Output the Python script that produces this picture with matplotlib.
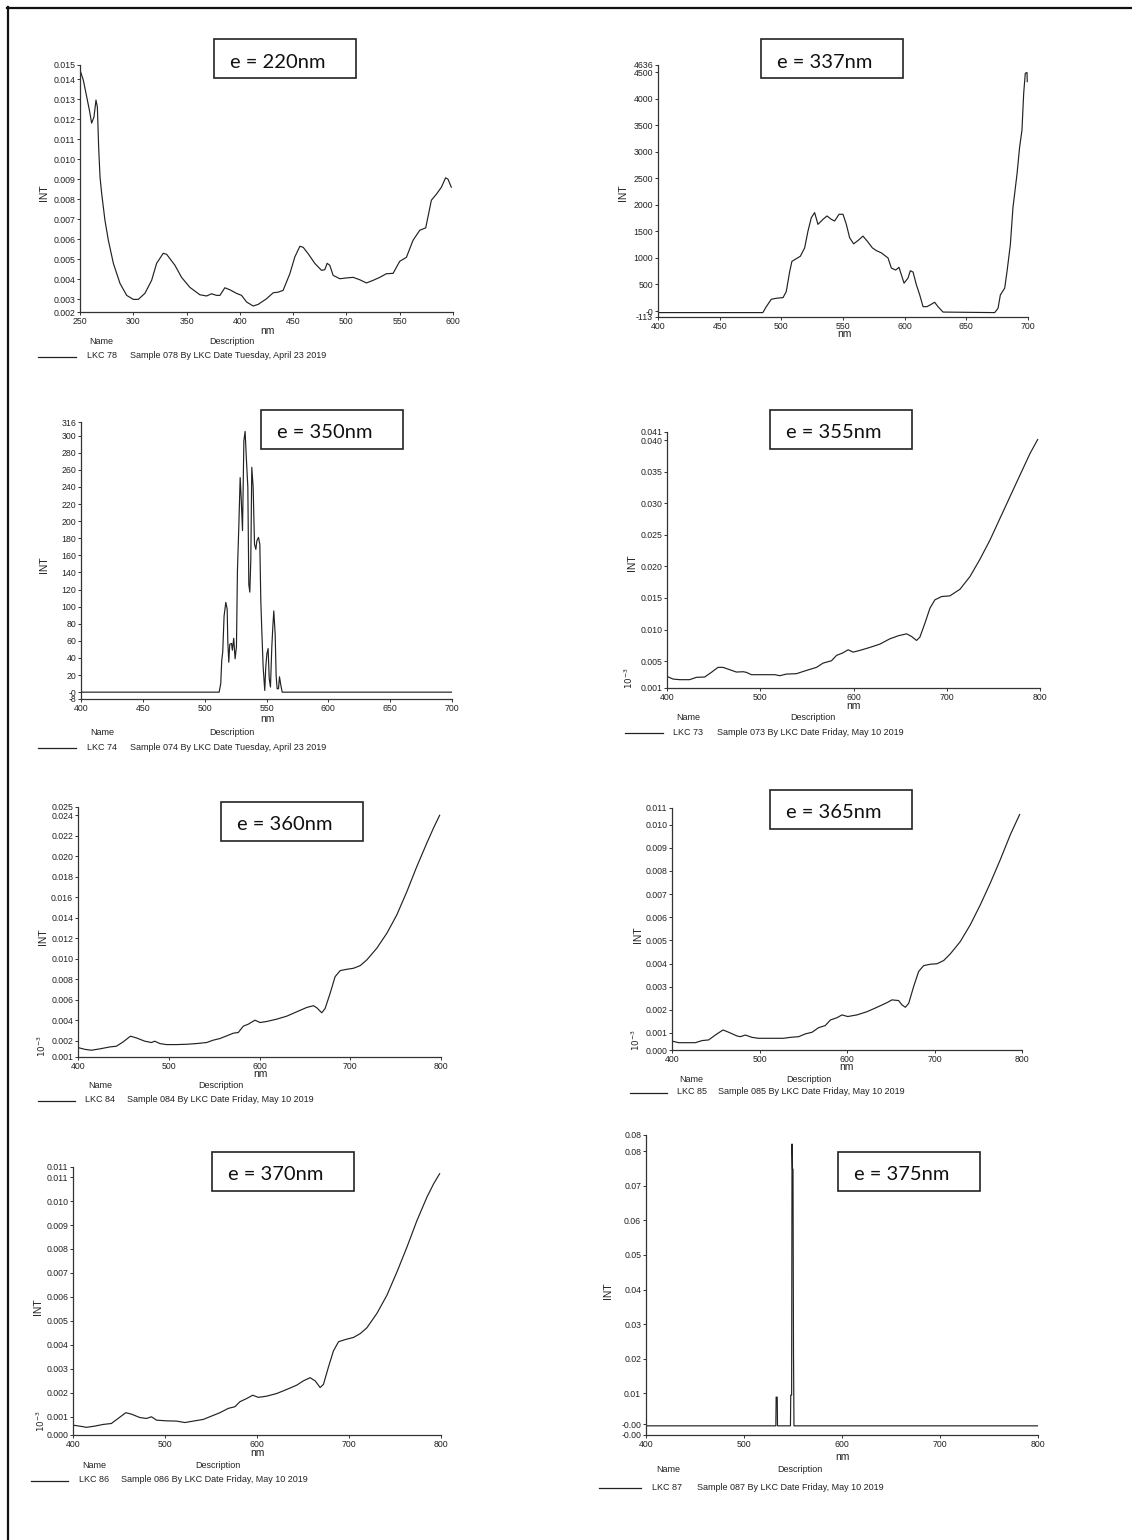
import matplotlib
matplotlib.use("Agg")
import matplotlib.pyplot as plt
from matplotlib.lines import Line2D
from matplotlib.patches import Rectangle

# ---- data (nm, INT) ----
nm_220 = [250, 253.1, 256.9, 258.8, 260.9, 263.1, 265, 266.3, 267.5, 268.8, 270.3, 273.4,
          276.6, 281.3, 287.5, 293.8, 300, 304.7, 310.9, 317.2, 321.9, 328.1, 331.3, 339.1,
          345.3, 353.1, 362.5, 368.8, 373.4, 378.1, 381.3, 385.9, 390.6, 396.9, 401.6, 406.3,
          412.5, 417.2, 425, 431.3, 435.9, 440.6, 446.9, 451.6, 456.3, 459.4, 464.1, 470.3,
          476.6, 479.7, 481.9, 484.4, 487.5, 493.8, 500, 506.3, 512.5, 518.8, 525, 531.3,
          537.5, 543.8, 550, 556.3, 562.5, 568.8, 574.4, 579.7, 584.4, 589.1, 593.1, 595.3, 598.4]
int_220 = [0.01445, 0.01395, 0.01295, 0.01245, 0.0118, 0.0121, 0.01295, 0.0126, 0.0106, 0.0091,
           0.0083, 0.00695, 0.00595, 0.0048, 0.0038, 0.0032, 0.0030, 0.0030, 0.0033, 0.00395,
           0.0048, 0.0053, 0.00525, 0.0047, 0.0041, 0.0036, 0.00323, 0.00317, 0.00328, 0.0032,
           0.0032, 0.00358, 0.00348, 0.0033, 0.0032, 0.00287, 0.00267, 0.00275, 0.00303, 0.00333,
           0.00336, 0.00345, 0.00428, 0.00512, 0.00565, 0.0056, 0.00528, 0.0048, 0.00445, 0.00448,
           0.0048, 0.0047, 0.0042, 0.00403, 0.00407, 0.0041, 0.00398, 0.00382, 0.00395, 0.0041,
           0.00428, 0.0043, 0.0049, 0.0051, 0.00595, 0.00645, 0.00657, 0.00795, 0.00825, 0.0086,
           0.00907, 0.0090, 0.0086]

nm_337 = [400, 485, 487.8, 491.9, 496, 501.4, 504, 506.8, 508.6, 512.2, 515.4, 518.9, 521.6,
          524.3, 527, 529.7, 533.8, 537, 540.5, 543.2, 546.8, 550, 552.7, 555.4, 558.6, 562.2,
          566.2, 569.7, 573.8, 577, 581.1, 586.5, 589.2, 592.7, 595.4, 599.5, 602.7, 604.6,
          606.8, 609.5, 612.2, 614.9, 618.1, 621.6, 624.3, 627, 631.1, 673, 675.7, 677.6, 681.1,
          683, 685.7, 687.8, 691.1, 693.2, 695.1, 696.5, 697.8, 699.2, 699.4]
int_337 = [-30, -30, 82, 222, 240, 253, 367, 747, 937, 987, 1032, 1190, 1506, 1759, 1854, 1633,
           1728, 1791, 1728, 1696, 1823, 1823, 1633, 1380, 1266, 1329, 1411, 1316, 1190, 1139,
           1095, 1000, 810, 772, 823, 525, 620, 759, 734, 494, 304, 82, 82, 127, 165, 82, -20,
           -30, 51, 304, 430, 747, 1253, 1949, 2582, 3089, 3405, 4101, 4481, 4494, 4323]

nm_350 = [400, 511.7, 513, 513.8, 514.6, 515.7, 517.1, 518.2, 518.7, 519.5, 520.3, 521.7, 522.4,
          523.5, 524.6, 525.7, 526.5, 527.6, 528.7, 529.5, 530.6, 531.7, 532.7, 533.8, 534.9,
          535.7, 536.5, 537.3, 538.1, 539.2, 540.3, 541.4, 542.2, 543.5, 544.6, 545.4, 546.2,
          547.3, 548.6, 549.4, 550.3, 551.3, 552.2, 553.2, 554.3, 555.1, 555.9, 557, 557.8,
          558.6, 559.7, 560.5, 561.6, 562.7, 700]
int_350 = [0, 0, 10, 37, 47, 89, 105, 97, 60, 35, 56, 57, 49, 63, 39, 53, 142, 193, 251, 228,
           189, 294, 305, 271, 240, 126, 117, 154, 263, 240, 173, 167, 177, 181, 173, 107, 72,
           29, 2, 29, 45, 51, 16, 6, 53, 76, 95, 68, 19, 4, 4, 18, 8, 0, 0]

nm_355 = [400, 406.4, 413.6, 424.3, 431.5, 440.4, 447.6, 454.7, 460.1, 467.3, 474.4, 481.6,
          485.2, 490.5, 503, 515.6, 520.9, 528.1, 538.8, 549.6, 560.3, 567.4, 576.4, 581.8,
          588.2, 594.3, 599.6, 606.8, 617.5, 628.3, 639, 648, 656.9, 662.3, 667.6, 671.2, 676.6,
          682, 687.3, 694.5, 703.4, 714.2, 724.9, 735.6, 746.4, 757.1, 767.8, 778.5, 789.3, 797.5]
int_355 = [0.00257, 0.00215, 0.00205, 0.00205, 0.00242, 0.00247, 0.00321, 0.0040, 0.0040,
           0.00363, 0.00326, 0.00331, 0.00321, 0.00284, 0.00284, 0.00284, 0.00268, 0.00294,
           0.0030, 0.00352, 0.0040, 0.00468, 0.00505, 0.0059, 0.00627, 0.00679, 0.00642, 0.00669,
           0.00716, 0.00769, 0.00853, 0.00901, 0.00932, 0.0089, 0.00827, 0.0088, 0.01101,
           0.01339, 0.01471, 0.01523, 0.01534, 0.01639, 0.0184, 0.02114, 0.0242, 0.02763,
           0.03106, 0.03448, 0.03791, 0.04013]

nm_360 = [400, 407.4, 414.7, 423.9, 435, 442.3, 449.7, 457.8, 464.4, 473.6, 481, 484.6, 490.2,
          497.5, 508.6, 519.6, 530.6, 541.7, 549, 556.4, 563.8, 571.1, 576.6, 582.2, 587.7, 595,
          600.6, 607.9, 619, 630, 641.1, 652.1, 659.4, 663.1, 668.6, 672.3, 677.8, 683.3, 688.9,
          696.2, 703.6, 711, 718.3, 729.3, 740.4, 751.4, 762.5, 773.5, 784.5, 791.9, 798.5]
int_360 = [0.00135, 0.00118, 0.00109, 0.00122, 0.00141, 0.00148, 0.0019, 0.00246, 0.00229,
           0.00197, 0.00184, 0.00197, 0.00174, 0.00164, 0.00164, 0.00167, 0.00174, 0.00184,
           0.00207, 0.00223, 0.00249, 0.00275, 0.00282, 0.00344, 0.00363, 0.00402, 0.00379,
           0.00389, 0.00412, 0.00441, 0.00484, 0.00526, 0.00543, 0.00523, 0.00474, 0.00516,
           0.00663, 0.00826, 0.00885, 0.00898, 0.00908, 0.00934, 0.0099, 0.01104, 0.0125,
           0.0143, 0.01658, 0.01903, 0.02131, 0.02278, 0.02399]

nm_365 = [400, 407.6, 417.1, 426.7, 434.3, 441.9, 449.5, 458.3, 464.8, 474.3, 478.1, 483.8,
          491.4, 499, 512.4, 527.6, 535.2, 544.8, 552.4, 560, 567.6, 575.2, 581, 588.6, 594.3,
          600.8, 611.4, 622.9, 634.3, 645.7, 651.4, 659, 662.9, 666.7, 670.5, 676.2, 681.9,
          687.6, 695.2, 702.9, 710.5, 718.1, 729.5, 741, 752.4, 763.8, 775.2, 786.7, 797.3]
int_365 = [0.00065, 0.00058, 0.00058, 0.00058, 0.00067, 0.0007, 0.00091, 0.00113, 0.00103,
           0.00087, 0.00084, 0.00091, 0.00081, 0.00077, 0.00077, 0.00077, 0.00081, 0.00084,
           0.00096, 0.00103, 0.00123, 0.00132, 0.00156, 0.00166, 0.00178, 0.00171, 0.00178,
           0.00192, 0.00211, 0.00231, 0.00243, 0.0024, 0.00221, 0.00211, 0.00228, 0.00301,
           0.00366, 0.00391, 0.00397, 0.00399, 0.00413, 0.00442, 0.00495, 0.00568, 0.00654,
           0.00748, 0.00849, 0.00957, 0.01044]

nm_370 = [400, 407.3, 414.5, 423.6, 432.7, 441.7, 449, 457.4, 463.5, 472.6, 479.9, 485.3, 490.7,
          501.6, 512.5, 521.6, 530.7, 541.6, 550.6, 559.7, 568.8, 576, 581.5, 588.7, 595.3,
          601.5, 610.5, 621.4, 632.3, 643.2, 650.5, 657.7, 663.2, 668.6, 672.2, 677.7, 683.1,
          688.6, 695.8, 704.9, 712.2, 719.4, 730.3, 741.2, 752.1, 763, 773.9, 784.8, 792, 798.5]
int_370 = [0.00065, 0.00061, 0.00056, 0.00061, 0.00068, 0.00072, 0.00093, 0.00117, 0.00111,
           0.00097, 0.00093, 0.0010, 0.00086, 0.00083, 0.00082, 0.00076, 0.00082, 0.00089,
           0.00103, 0.00117, 0.00135, 0.00142, 0.00163, 0.00176, 0.0019, 0.00181, 0.00186,
           0.00197, 0.00214, 0.00232, 0.0025, 0.00263, 0.0025, 0.00222, 0.00235, 0.00308,
           0.00375, 0.00413, 0.00422, 0.00431, 0.00447, 0.00471, 0.00531, 0.00607, 0.00704,
           0.00808, 0.00919, 0.01017, 0.01072, 0.01114]

nm_375 = [400, 532.5, 532.8, 533.9, 534.2, 547.4, 547.7, 548.6, 549.0, 549.5, 550.0, 550.5,
          551.0, 800]
int_375 = [0.0006, 0.0006, 0.0089, 0.0089, 0.0006, 0.0006, 0.0095, 0.0095, 0.0821, 0.0748,
           0.0748, 0.022, 0.0006, 0.0006]

titles = ["e = 220nm", "e = 337nm", "e = 350nm", "e = 355nm",
          "e = 360nm", "e = 365nm", "e = 370nm", "e = 375nm"]
sample_names = ["LKC 78", None, "LKC 74", "LKC 73", "LKC 84", "LKC 85", "LKC 86", "LKC 87"]
sample_desc = ["Sample 078 By LKC Date Tuesday, April 23 2019", None,
               "Sample 074 By LKC Date Tuesday, April 23 2019",
               "Sample 073 By LKC Date Friday, May 10 2019",
               "Sample 084 By LKC Date Friday, May 10 2019",
               "Sample 085 By LKC Date Friday, May 10 2019",
               "Sample 086 By LKC Date Friday, May 10 2019",
               "Sample 087 By LKC Date Friday, May 10 2019"]

xticks_220 = [250, 300, 350, 400, 450, 500, 550, 600]
xticks_400_700 = [400, 450, 500, 550, 600, 650, 700]
xticks_400_800 = [400, 500, 600, 700, 800]

# y ticks (value, label) - end ticks sit on the axis limits
yt_220 = [0.00237, 0.003, 0.004, 0.005, 0.006, 0.007, 0.008, 0.009, 0.010, 0.011, 0.012,
          0.013, 0.014, 0.0147]
yl_220 = ["0.002", "0.003", "0.004", "0.005", "0.006", "0.007", "0.008", "0.009", "0.010",
          "0.011", "0.012", "0.013", "0.014", "0.015"]
yt_337 = [-113, 0, 500, 1000, 1500, 2000, 2500, 3000, 3500, 4000, 4500, 4636]
yl_337 = ["-113", "-0", "500", "1000", "1500", "2000", "2500", "3000", "3500", "4000",
          "4500", "4636"]
yt_350 = [-8, 0, 20, 40, 60, 80, 100, 120, 140, 160, 180, 200, 220, 240, 260, 280, 300, 316]
yl_350 = ["-8", "-0", "20", "40", "60", "80", "100", "120", "140", "160", "180", "200",
          "220", "240", "260", "280", "300", "316"]
yt_355 = [0.00073, 0.005, 0.010, 0.015, 0.020, 0.025, 0.030, 0.035, 0.040, 0.04132]
yl_355 = ["0.001", "0.005", "0.010", "0.015", "0.020", "0.025", "0.030", "0.035", "0.040",
          "0.041"]
yt_360 = [0.00043, 0.002, 0.004, 0.006, 0.008, 0.010, 0.012, 0.014, 0.016, 0.018, 0.020,
          0.022, 0.024, 0.0248]
yl_360 = ["0.001", "0.002", "0.004", "0.006", "0.008", "0.010", "0.012", "0.014", "0.016",
          "0.018", "0.020", "0.022", "0.024", "0.025"]
yt_365 = [0.000264, 0.001, 0.002, 0.003, 0.004, 0.005, 0.006, 0.007, 0.008, 0.009, 0.010,
          0.01072]
yl_365 = ["0.000", "0.001", "0.002", "0.003", "0.004", "0.005", "0.006", "0.007", "0.008",
          "0.009", "0.010", "0.011"]
yt_370 = [0.00024, 0.001, 0.002, 0.003, 0.004, 0.005, 0.006, 0.007, 0.008, 0.009, 0.010,
          0.011, 0.01142]
yl_370 = ["0.000", "0.001", "0.002", "0.003", "0.004", "0.005", "0.006", "0.007", "0.008",
          "0.009", "0.010", "0.011", "0.011"]
yt_375 = [-0.00205, 0.0011, 0.01, 0.02, 0.03, 0.04, 0.05, 0.06, 0.07, 0.08, 0.0847]
yl_375 = ["-0.00", "-0.00", "0.01", "0.02", "0.03", "0.04", "0.05", "0.06", "0.07", "0.08",
          "0.08"]

# ---- layout (pixels in a 1132x1540 page) ----
W, H = 1132, 1540

def fx(x):
    return x / W

def fy(y):
    return 1 - y / H

# axes box: left, right, top, bottom
axes_px = [(80, 453, 65, 312), (658, 1028, 65, 317), (81, 452, 422, 699),
           (667, 1040, 432, 688), (78, 441, 807, 1057), (672, 1022, 808, 1050),
           (73, 441, 1167, 1435), (646, 1038, 1135, 1435)]
# title box: left, top
title_px = [(214, 39), (761, 39), (261, 410), (770, 410), (221, 802), (770, 790),
            (212, 1152), (838, 1152)]
int_px = [(44, 193), (623, 193), (44, 565), (632, 563), (43, 937), (638, 935), (38, 1307),
          (608, 1291)]
nm_px = [(267, 331), (844, 334), (267, 719), (853, 706), (260, 1074), (846, 1067),
         (257, 1453), (842, 1457)]
# legend: name centre, desc centre, header y, line x0, x1, row y, id left, sample left
legend_px = [(101, 232, 342, 38, 76, 357, 87, 130), None,
             (102, 232, 732, 38, 76, 748, 87, 130),
             (688, 813, 718, 625, 663, 733, 673, 717),
             (100, 221, 1085, 38, 75, 1101, 85, 127),
             (691, 809, 1079, 630, 667, 1093, 677, 718),
             (94, 218, 1466, 31, 68, 1481, 79, 121),
             (668, 800, 1470, 599, 641, 1488, 652, 697)]
exp_px = [None, None, None, (629, 678), (42, 1046), (636, 1040), (41, 1421), None]

series = [(nm_220, int_220), (nm_337, int_337), (nm_350, int_350), (nm_355, int_355),
          (nm_360, int_360), (nm_365, int_365), (nm_370, int_370), (nm_375, int_375)]
xticks = [xticks_220, xticks_400_700, xticks_400_700, xticks_400_800, xticks_400_800,
          xticks_400_800, xticks_400_800, xticks_400_800]
yticks = [(yt_220, yl_220), (yt_337, yl_337), (yt_350, yl_350), (yt_355, yl_355),
          (yt_360, yl_360), (yt_365, yl_365), (yt_370, yl_370), (yt_375, yl_375)]

SMALL = "Liberation Sans"
ink = "#222222"

fig = plt.figure(figsize=(W / 100, H / 100), dpi=100)
fig.patch.set_facecolor("white")

# page frame (left and top edges only)
fig.add_artist(Line2D([fx(7.5), fx(7.5)], [fy(7), 0], color="#111", lw=1.6))
fig.add_artist(Line2D([fx(7), 1], [fy(7.5), fy(7.5)], color="#111", lw=1.6))

for i in range(8):
    L, R, T, B = axes_px[i]
    ax = fig.add_axes([fx(L), fy(B), (R - L) / W, (B - T) / H])
    x, y = series[i]
    ax.plot(x, y, color=ink, lw=0.85)
    xt = xticks[i]
    ax.set_xlim(xt[0], xt[-1])
    yt, yl = yticks[i]
    ax.set_ylim(yt[0], yt[-1])
    ax.set_xticks(xt)
    ax.set_xticklabels([str(v) for v in xt])
    ax.set_yticks(yt)
    ax.set_yticklabels(yl)
    for s in ["top", "right"]:
        ax.spines[s].set_visible(False)
    for s in ["left", "bottom"]:
        ax.spines[s].set_linewidth(0.9)
        ax.spines[s].set_color("#333")
    ax.tick_params(labelsize=6.3, length=2.5, width=0.7, pad=1, colors="#333",
                   labelcolor=ink)
    for lab in ax.get_xticklabels() + ax.get_yticklabels():
        lab.set_family(SMALL)
    ax.patch.set_alpha(0)

    # axis labels
    ix, iy = int_px[i]
    fig.text(fx(ix), fy(iy), "INT", rotation=90, ha="center", va="center",
             fontsize=7.5, family=SMALL, color=ink)
    nx, ny = nm_px[i]
    fig.text(fx(nx), fy(ny), "nm", ha="center", va="center", fontsize=7.5,
             family=SMALL, color=ink)

    if exp_px[i] is not None:
        ex, ey = exp_px[i]
        fig.text(fx(ex), fy(ey), r"$10^{-3}$", rotation=90, ha="center", va="center",
                 fontsize=6.3, family=SMALL, color=ink)

    # title box
    bx, by = title_px[i]
    fig.add_artist(Rectangle((fx(bx), fy(by + 39)), 142 / W, 39 / H, transform=fig.transFigure,
                             fill=True, facecolor="white", edgecolor="#222", lw=1.2))
    fig.text(fx(bx + 16), fy(by + 23), titles[i], ha="left", va="center",
             fontsize=14.5, family="Lato", color="#111")

    # legend block
    lg = legend_px[i]
    if lg is not None:
        nmc, dc, hy, lx0, lx1, ry, idl, sl = lg
        fig.text(fx(nmc), fy(hy), "Name", ha="center", va="center", fontsize=6.5,
                 family=SMALL, color=ink)
        fig.text(fx(dc), fy(hy), "Description", ha="center", va="center", fontsize=6.5,
                 family=SMALL, color=ink)
        fig.add_artist(Line2D([fx(lx0), fx(lx1)], [fy(ry), fy(ry)], color=ink, lw=0.9))
        fig.text(fx(idl), fy(ry - 1), sample_names[i], ha="left", va="center", fontsize=6.5,
                 family=SMALL, color=ink)
        fig.text(fx(sl), fy(ry - 1), sample_desc[i], ha="left", va="center", fontsize=6.5,
                 family=SMALL, color=ink)

fig.savefig("out.png", dpi=100)
